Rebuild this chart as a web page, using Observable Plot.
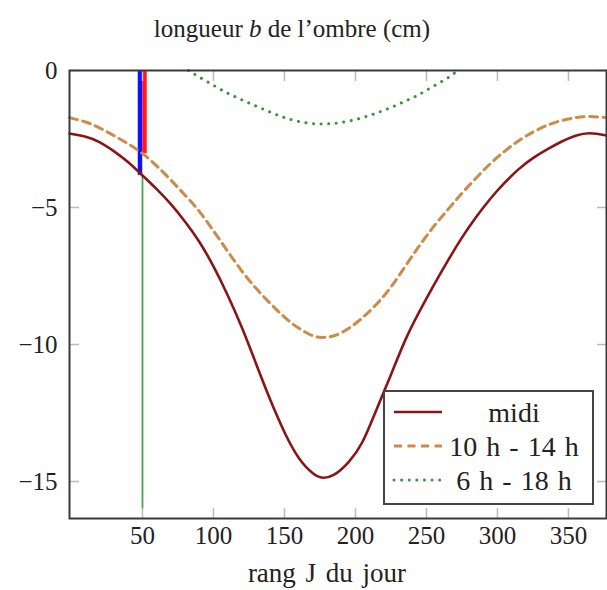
<!DOCTYPE html>
<html><head><meta charset="utf-8">
<script src="https://cdn.jsdelivr.net/npm/d3@7"></script>
<script src="https://cdn.jsdelivr.net/npm/@observablehq/plot@0.6"></script>
<style>
body{margin:0;background:#fff;}
#wrap{position:relative;width:607px;height:590px;font-family:"Liberation Serif","DejaVu Serif",serif;color:#222;overflow:hidden;}
#title{position:absolute;left:0;top:14px;width:584px;text-align:center;font-size:25px;line-height:30px;}
#chart{position:absolute;left:0;top:50px;}
#xlabel{position:absolute;left:0;top:558px;width:654px;text-align:center;font-size:27px;line-height:30px;word-spacing:3px;}
#legend{position:absolute;left:383px;top:390px;width:211px;height:115px;border:2px solid #444;background:#fff;box-sizing:border-box;}
#legend svg{position:absolute;left:0;top:0;}
</style></head><body>
<div id="wrap">
<div id="title">longueur <i>b</i> de l’ombre (cm)</div>
<div id="chart"></div>
<div id="xlabel">rang J du jour</div>
<div id="legend"></div>
</div>
<script>
// ---- data ----
const xTicks = [50, 100, 150, 200, 250, 300, 350];
const yTicks = [0, -5, -10, -15];
const xDomain = [-1.4, 376.8];
const yDomain = [-16.35, 0];

const midiDays = [-1.4, 10, 20, 30, 40, 50, 60, 70, 80, 90, 100, 110, 120, 130, 140, 150, 160, 170, 177, 185, 195, 205, 215, 225, 235, 245, 255, 265, 275, 285, 295, 305, 315, 325, 335, 345, 355, 365, 376.8];
const midiVals = [-2.30, -2.42, -2.62, -2.95, -3.35, -3.83, -4.33, -4.88, -5.52, -6.25, -7.15, -8.20, -9.38, -10.70, -12.02, -13.20, -14.13, -14.70, -14.86, -14.75, -14.30, -13.55, -12.35, -11.10, -9.85, -8.80, -7.85, -6.95, -6.10, -5.35, -4.68, -4.10, -3.60, -3.20, -2.88, -2.60, -2.38, -2.29, -2.37];

const h10Days = [-1.4, 10, 20, 30, 40, 50, 60, 70, 80, 90, 100, 110, 120, 130, 140, 150, 160, 170, 177, 185, 195, 205, 215, 225, 235, 245, 255, 265, 275, 285, 295, 305, 315, 325, 335, 345, 355, 365, 376.8];
const h10Vals = [-1.72, -1.88, -2.10, -2.38, -2.68, -3.03, -3.48, -4.0, -4.55, -5.14, -5.85, -6.6, -7.32, -7.95, -8.5, -9.0, -9.4, -9.68, -9.74, -9.68, -9.42, -9.02, -8.52, -7.9, -7.15, -6.4, -5.7, -5.08, -4.48, -3.92, -3.4, -2.95, -2.56, -2.25, -2.0, -1.83, -1.72, -1.68, -1.72];

const h6Days = [82.4, 90, 100, 110, 120, 130, 140, 150, 160, 170, 177, 185, 195, 205, 215, 225, 235, 245, 255, 265, 272];
const h6Vals = [0, -0.24, -0.54, -0.83, -1.07, -1.3, -1.52, -1.72, -1.86, -1.94, -1.95, -1.93, -1.85, -1.72, -1.55, -1.35, -1.12, -0.87, -0.57, -0.27, 0];

// markers at day 50
const markDay = 50;
const blueSeg = [{day: markDay, top: 0, bottom: -3.83}];
const redSeg = [{day: markDay, top: 0, bottom: -3.03}];
const greenSeg = [{day: markDay, top: -3.83, bottom: -16.0}];

const seriesNames = ["midi", "10 h - 14 h", "6 h - 18 h"];
const seriesColors = ["#8b1515", "#cf8a48", "#3d923d"];

const toRows = (days, vals) => days.map((d, i) => ({day: d, b: vals[i]}));
const midi = toRows(midiDays, midiVals);
const h10 = toRows(h10Days, h10Vals);
const h6 = toRows(h6Days, h6Vals);

const minus = d => d < 0 ? "\u2212" + (-d) : String(d);

const chart = Plot.plot({
  width: 607,
  height: 540,
  marginTop: 20,
  marginBottom: 72,
  marginLeft: 69,
  marginRight: 1,
  style: {fontFamily: "'Liberation Serif', serif", fontSize: "25px", color: "#222", background: "#fff"},
  x: {domain: xDomain},
  y: {domain: yDomain},
  marks: [
    Plot.ruleX(blueSeg, {x: "day", y1: "top", y2: "bottom", stroke: "#1010ff", strokeWidth: 4.5, dx: -2.5}),
    Plot.ruleX(redSeg, {x: "day", y1: "top", y2: "bottom", stroke: "#ff1a1a", strokeWidth: 4.5, dx: 2}),
    Plot.ruleX(greenSeg, {x: "day", y1: "top", y2: "bottom", stroke: "#45a845", strokeWidth: 1.8}),
    Plot.line(h6, {x: "day", y: "b", stroke: seriesColors[2], strokeWidth: 3, strokeDasharray: "0.1,7.5", strokeLinecap: "round", curve: "natural"}),
    Plot.line(h10, {x: "day", y: "b", stroke: seriesColors[1], strokeWidth: 3, strokeDasharray: "8,5.5", curve: "natural"}),
    Plot.line(midi, {x: "day", y: "b", stroke: seriesColors[0], strokeWidth: 2.6, curve: "natural"}),
    Plot.axisX({anchor: "bottom", ticks: xTicks, tickSize: -10, stroke: "#bbb", strokeWidth: 1.5, tickFormat: () => "", label: null}),
    Plot.axisX({anchor: "top", ticks: xTicks, tickSize: -10, stroke: "#bbb", strokeWidth: 1.5, tickFormat: () => "", label: null}),
    Plot.axisX({anchor: "bottom", ticks: xTicks, tickSize: 0, tickPadding: 8, fontSize: 25, fill: "#222", label: null}),
    Plot.axisY({anchor: "left", ticks: yTicks, tickSize: -10, stroke: "#bbb", strokeWidth: 1.5, tickFormat: () => "", label: null}),
    Plot.axisY({anchor: "right", ticks: yTicks, tickSize: -10, stroke: "#bbb", strokeWidth: 1.5, tickFormat: () => "", label: null}),
    Plot.axisY({anchor: "left", ticks: yTicks, tickSize: 0, tickPadding: 12, tickFormat: minus, fontSize: 25, fill: "#222", label: null}),
    Plot.frame({stroke: "#3a3a3a", strokeWidth: 2})
  ]
});
document.getElementById("chart").appendChild(chart);

// legend
const lg = d3.select("#legend").append("svg").attr("width", 207).attr("height", 111);
const dashes = [null, "8,5.5", "0.1,7.5"];
seriesNames.forEach((name, i) => {
  const y = 20 + i * 34;
  lg.append("line").attr("x1", 9).attr("x2", 57).attr("y1", y).attr("y2", y)
    .attr("stroke", seriesColors[i]).attr("stroke-width", i === 0 ? 2.6 : 3)
    .attr("stroke-dasharray", dashes[i]).attr("stroke-linecap", i === 2 ? "round" : "butt");
  lg.append("text").attr("x", 129).attr("y", y).attr("dy", "0.35em").attr("text-anchor", "middle")
    .attr("font-family", "'Liberation Serif', serif").attr("font-size", 28).attr("word-spacing", 2).attr("fill", "#222").text(name);
});
</script>
</body></html>
